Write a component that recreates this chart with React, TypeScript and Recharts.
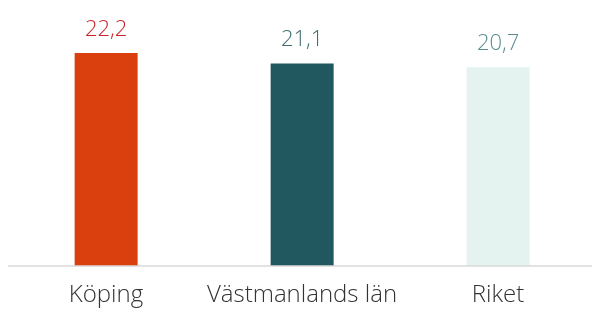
import React from "react";
import { BarChart, Bar, XAxis, YAxis, Cell, LabelList } from "recharts";

const categories = ["Köping", "Västmanlands län", "Riket"];
const values = [22.2, 21.1, 20.7];
const barColors = ["#D9400E", "#21575F", "#E4F3F0"];
const labelColors = ["#C8242A", "#3E6A70", "#5B8C8E"];

const data = categories.map((name, i) => ({ name, value: values[i] }));

const FONT = "'Open Sans', Lato, sans-serif";

const ValueLabel = (props: any) => {
  const { x, y, width, value, index } = props;
  return (
    <text
      x={x + width / 2}
      y={y - 17}
      textAnchor="middle"
      fill={labelColors[index]}
      fontFamily={FONT}
      fontWeight={300}
      fontSize={22}
    >
      {String(value.toFixed(1)).replace(".", ",")}
    </text>
  );
};

export default function App() {
  return (
    <div
      style={{
        position: "fixed",
        left: 8,
        top: 8,
        width: 584,
        height: 301,
        overflow: "hidden",
      }}
    >
      <BarChart
        width={588}
        height={301}
        data={data}
        margin={{ top: 18, right: 0, bottom: 0, left: 0 }}
        barCategoryGap="34%"
      >
        <YAxis hide domain={[0, 25]} />
        <XAxis
          dataKey="name"
          axisLine={{ stroke: "#D9D9D9", strokeWidth: 1.5 }}
          tickLine={false}
          tickSize={0}
          tickMargin={19}
          height={43}
          interval={0}
          tick={{ fill: "#333333", fontFamily: FONT, fontWeight: 300, fontSize: 24 }}
        />
        <Bar dataKey="value" isAnimationActive={false}>
          {data.map((d, i) => (
            <Cell key={d.name} fill={barColors[i]} />
          ))}
          <LabelList dataKey="value" content={<ValueLabel />} />
        </Bar>
      </BarChart>
    </div>
  );
}
